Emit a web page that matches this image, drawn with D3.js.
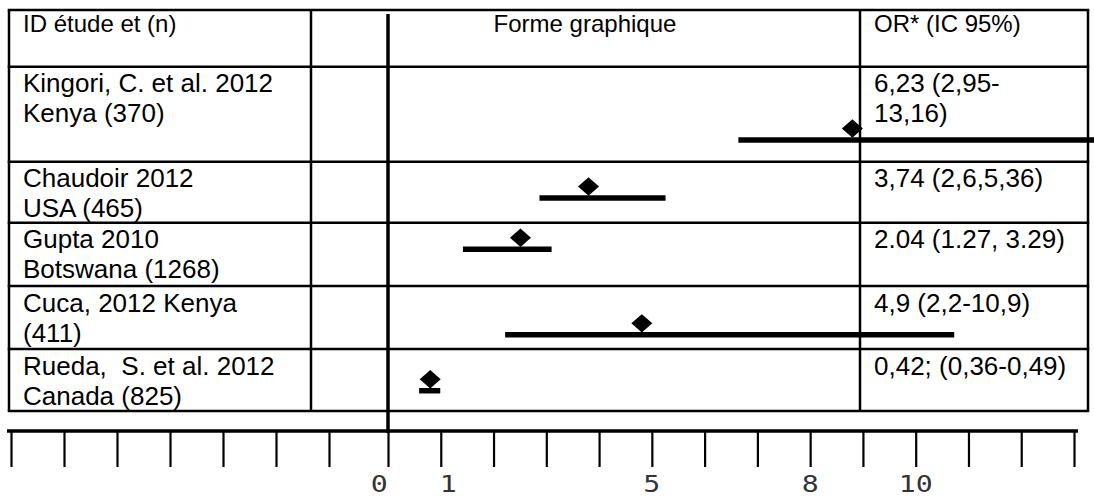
<!DOCTYPE HTML>
<html>
  <head>
    <meta charset="utf-8">
    <style>
      body { margin: 0; background: #fff; }
      svg { display: block; }
      .cell-text { font-family: "Liberation Sans", Arial, sans-serif; font-size: 26px; fill: #000; }
      .head-text { font-family: "Liberation Sans", Arial, sans-serif; font-size: 24px; fill: #000; }
      .tick-label { font-family: "DejaVu Sans Mono", "Liberation Mono", monospace; font-size: 23.5px; fill: #333; }
    </style>
  </head>
  <body>

    <script src="https://cdn.jsdelivr.net/npm/d3@7"></script>

    <script>

    // *** DATA ***

    // Study labels (two lines per cell, as wrapped in the table)
    var studyLabels = [
      ["Kingori, C. et al. 2012", "Kenya (370)"],
      ["Chaudoir 2012", "USA (465)"],
      ["Gupta 2010", "Botswana (1268)"],
      ["Cuca, 2012 Kenya", "(411)"],
      ["Rueda,  S. et al. 2012", "Canada (825)"]
    ];

    // OR text column
    var orLabels = [
      ["6,23 (2,95-", "13,16)"],
      ["3,74 (2,6,5,36)"],
      ["2.04 (1.27, 3.29)"],
      ["4,9 (2,2-10,9)"],
      ["0,42; (0,36-0,49)"]
    ];

    // Plotted positions (axis units)
    var orPoint = [8.80, 3.80, 2.51, 4.81, 0.80];
    var ciLow   = [6.64, 2.87, 1.42, 2.22, 0.59];
    var ciHigh  = [13.5, 5.26, 3.10, 10.73, 0.99];

    // Vertical position of each line inside its row (row units)
    var rowPos = [0.772, 1.595, 2.419, 3.775, 4.673];

    // Header texts
    var headers = ["ID étude et (n)", "Forme graphique", "OR* (IC 95%)"];

    // Axis ticks and labels
    var tickValues = d3.range(-7, 14);
    var tickLabels = ["0", "1", "5", "8", "10"];
    var tickLabelPos = [-0.15, 1.14, 5, 8, 10];

    // *** LAYOUT ***

    var W = 1094, H = 499;
    var colEdges = [9, 311, 860, 1088];
    var rowEdges = [10, 66.7, 161.7, 222.7, 286, 349, 411];
    var lineH = 30;

    var svg = d3.select("body").append("svg")
      .attr("width", W)
      .attr("height", H);

    svg.append("rect").attr("width", W).attr("height", H).attr("fill", "#fff");

    // x scale (ticks left of zero are slightly wider apart in the drawing)
    var x = d3.scaleLinear().domain([-7, -1, 0, 13]).range([11, 329, 388, 1074]);
    // y scale in row units: 0 = top of first study row
    var y = d3.scaleLinear().domain(d3.range(0, 6)).range(rowEdges.slice(1));

    // *** TABLE ***

    var grid = svg.append("g").attr("stroke", "#000").attr("stroke-width", 2.5).attr("fill", "none");

    grid.selectAll(".hline").data(rowEdges).enter().append("line")
      .attr("x1", colEdges[0] - 1.25).attr("x2", colEdges[3] + 1.25)
      .attr("y1", function(d){ return d; }).attr("y2", function(d){ return d; });

    grid.selectAll(".vline").data(colEdges).enter().append("line")
      .attr("x1", function(d){ return d; }).attr("x2", function(d){ return d; })
      .attr("y1", rowEdges[0]).attr("y2", rowEdges[rowEdges.length - 1]);

    // header
    svg.append("text").attr("class", "head-text")
      .attr("x", colEdges[0] + 14).attr("y", rowEdges[0] + 22).text(headers[0]);
    svg.append("text").attr("class", "head-text")
      .attr("x", 585).attr("y", rowEdges[0] + 22).attr("text-anchor", "middle").text(headers[1]);
    svg.append("text").attr("class", "head-text")
      .attr("x", colEdges[2] + 14).attr("y", rowEdges[0] + 22).text(headers[2]);

    // study cells
    studyLabels.forEach(function(lines, i){
      var t = svg.append("text").attr("class", "cell-text").attr("xml:space", "preserve");
      lines.forEach(function(s, j){
        t.append("tspan").attr("x", colEdges[0] + 14).attr("y", y(i) + 25.5 + j * lineH).text(s);
      });
    });

    orLabels.forEach(function(lines, i){
      var t = svg.append("text").attr("class", "cell-text");
      lines.forEach(function(s, j){
        t.append("tspan").attr("x", colEdges[2] + 14).attr("y", y(i) + 25.5 + j * lineH).text(s);
      });
    });

    // *** ZERO LINE ***

    svg.append("line")
      .attr("x1", x(0)).attr("x2", x(0))
      .attr("y1", 14).attr("y2", 433)
      .attr("stroke", "#000").attr("stroke-width", 3.5);

    // *** CI LINES & DIAMONDS ***

    var marks = svg.append("g");

    marks.selectAll(".ci").data(orPoint).enter().append("line")
      .attr("x1", function(d, i){ return x(ciLow[i]); })
      .attr("x2", function(d, i){ return x(ciHigh[i]); })
      .attr("y1", function(d, i){ return y(rowPos[i]); })
      .attr("y2", function(d, i){ return y(rowPos[i]); })
      .attr("stroke", "#000").attr("stroke-width", 5.5);

    var dw = 10.5, dh = 9.2;
    marks.selectAll(".dia").data(orPoint).enter().append("path")
      .attr("transform", function(d, i){ return "translate(" + x(d) + "," + (y(rowPos[i]) - 11.5) + ")"; })
      .attr("d", "M0," + (-dh) + "L" + dw + ",0L0," + dh + "L" + (-dw) + ",0Z")
      .attr("fill", "#000");

    // *** AXIS ***

    var axis = d3.axisBottom(x)
      .tickValues(tickValues)
      .tickSize(36)
      .tickSizeOuter(0)
      .tickFormat("");

    var gAxis = svg.append("g")
      .attr("transform", "translate(0,431)")
      .call(axis);

    gAxis.select(".domain").attr("d", "M7,0H1078").attr("stroke", "#000").attr("stroke-width", 3.5);
    gAxis.selectAll(".tick line").attr("stroke", "#000").attr("stroke-width", 2.2);

    // labels are drawn a little wider than the mono font
    svg.selectAll(".tick-label").data(tickLabels).enter().append("text")
      .attr("class", "tick-label")
      .attr("transform", function(d, i){ return "translate(" + x(tickLabelPos[i]) + ",492) scale(1.2,1)"; })
      .attr("text-anchor", "middle")
      .text(function(d){ return d; });

    </script>
  </body>
</html>
